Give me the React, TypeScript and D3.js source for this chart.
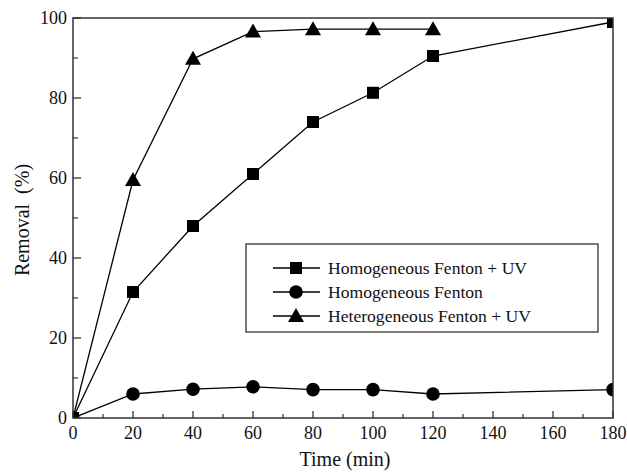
import React from "react";
import * as d3 from "d3";

const times = [0, 20, 40, 60, 80, 100, 120, 180];
const homUV = [0, 31.5, 48, 61, 74, 81.3, 90.5, 99];
const hom = [0, 6, 7.2, 7.8, 7.1, 7.1, 6.0, 7.1];
const hetTimes = [0, 20, 40, 60, 80, 100, 120];
const hetUV = [0, 59.5, 89.8, 96.6, 97.2, 97.2, 97.2];
const seriesNames = ["Homogeneous Fenton + UV", "Homogeneous Fenton", "Heterogeneous Fenton + UV"];
const xTicks = [0, 20, 40, 60, 80, 100, 120, 140, 160, 180];
const yTicks = [0, 20, 40, 60, 80, 100];

const W = 627, H = 472;
const L = 73, R = 613, T = 18, B = 418;
const FONT = "Liberation Serif, Times New Roman, DejaVu Serif, serif";

function Marker({ type, x, y }: { type: string; x: number; y: number }) {
  if (type === "square") return <rect x={x - 6} y={y - 6} width={12} height={12} fill="#000" />;
  if (type === "circle") return <circle cx={x} cy={y} r={6.8} fill="#000" />;
  const s = 8;
  return <path d={`M${x},${y - s}L${x + s},${y + s * 0.75}L${x - s},${y + s * 0.75}Z`} fill="#000" />;
}

export default function App() {
  const x = d3.scaleLinear().domain([0, 180]).range([L, R]);
  const y = d3.scaleLinear().domain([0, 100]).range([B, T]);
  const line = d3.line<[number, number]>().x(d => x(d[0])).y(d => y(d[1]));
  const series = [
    { type: "square", pts: times.map((t, i) => [t, homUV[i]] as [number, number]) },
    { type: "circle", pts: times.map((t, i) => [t, hom[i]] as [number, number]) },
    { type: "triangle", pts: hetTimes.map((t, i) => [t, hetUV[i]] as [number, number]) },
  ];
  const xMinor = d3.range(10, 180, 20);
  const yMinor = d3.range(10, 100, 20);
  const legendRows = [268, 292, 316];
  const ts = { fontFamily: FONT };
  return (
    <svg width={W} height={H} style={{ position: "absolute", left: 0, top: 0, fontFamily: FONT }}>
      <defs>
        <clipPath id="plot"><rect x={L} y={T} width={R - L} height={B - T} /></clipPath>
      </defs>
      <rect width={W} height={H} fill="#fff" />
      <g clipPath="url(#plot)">
        {series.map((s, i) => (
          <g key={i}>
            <path d={line(s.pts) || ""} fill="none" stroke="#000" strokeWidth={1.3} />
            {s.pts.map((p, j) => <Marker key={j} type={s.type} x={x(p[0])} y={y(p[1])} />)}
          </g>
        ))}
      </g>
      <rect x={L} y={T} width={R - L} height={B - T} fill="none" stroke="#333" strokeWidth={1.5} />
      {xTicks.map(t => (
        <g key={t}>
          <line x1={x(t)} x2={x(t)} y1={B} y2={B - 7} stroke="#333" strokeWidth={1.3} />
          <text x={x(t)} y={B + 21} textAnchor="middle" fontSize={18} fill="#111" style={ts}>{t}</text>
        </g>
      ))}
      {xMinor.map(t => <line key={t} x1={x(t)} x2={x(t)} y1={B} y2={B - 4} stroke="#333" strokeWidth={1.2} />)}
      {yTicks.map(t => (
        <g key={t}>
          <line x1={L} x2={L + 8} y1={y(t)} y2={y(t)} stroke="#333" strokeWidth={1.3} />
          <text x={L - 6} y={y(t) + 6} textAnchor="end" fontSize={18} fill="#111" style={ts}>{t}</text>
        </g>
      ))}
      {yMinor.map(t => <line key={t} x1={L} x2={L + 5} y1={y(t)} y2={y(t)} stroke="#333" strokeWidth={1.2} />)}
      <text x={345} y={466} textAnchor="middle" fontSize={20} fill="#111" style={ts}>Time (min)</text>
      <text transform={`translate(29,220) rotate(-90)`} textAnchor="middle" fontSize={20} fill="#111" style={{ ...ts, whiteSpace: "pre" }}>{"Removal  (%)"}</text>
      <rect x={246} y={244} width={352} height={88} fill="#fff" stroke="#333" strokeWidth={1.3} />
      {seriesNames.map((n, i) => (
        <g key={n}>
          <line x1={273} x2={320} y1={legendRows[i]} y2={legendRows[i]} stroke="#000" strokeWidth={1.3} />
          <Marker type={series[i].type} x={296} y={legendRows[i]} />
          <text x={328} y={legendRows[i] + 6} fontSize={17.6} fill="#111" style={ts}>{n}</text>
        </g>
      ))}
    </svg>
  );
}
